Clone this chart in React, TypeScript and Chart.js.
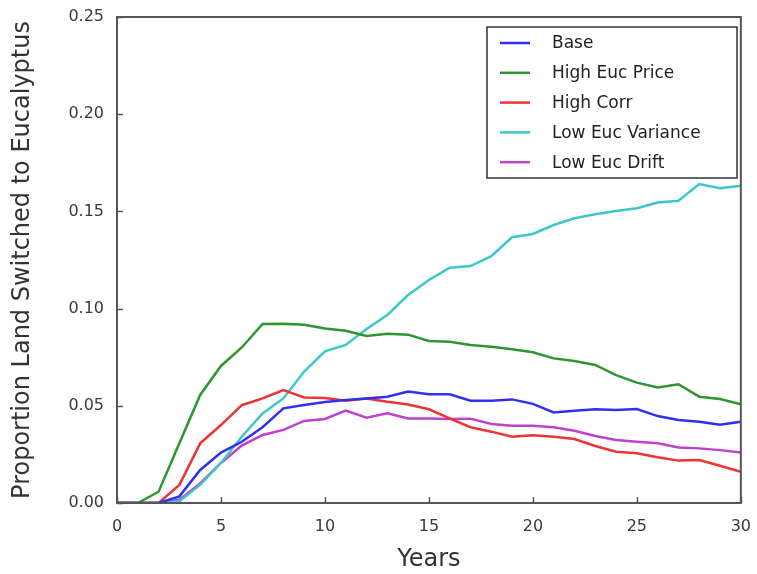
import React, { useEffect, useRef } from "react";
import { Chart, registerables } from "chart.js";

Chart.register(...registerables);

const years = [0, 1, 2, 3, 4, 5, 6, 7, 8, 9, 10, 11, 12, 13, 14, 15, 16, 17, 18, 19, 20, 21, 22, 23, 24, 25, 26, 27, 28, 29, 30];

const base = [0, 0, 0, 0.0034, 0.017, 0.0259, 0.0315, 0.039, 0.0487, 0.0504, 0.052, 0.053, 0.0538, 0.0547, 0.0573, 0.0559, 0.0559, 0.0526, 0.0526, 0.0533, 0.051, 0.0466, 0.0475, 0.0482, 0.0478, 0.0483, 0.0447, 0.0427, 0.0418, 0.0403, 0.0418];
const highEucPrice = [0, 0, 0.0058, 0.0307, 0.0556, 0.0705, 0.08, 0.0921, 0.0922, 0.0917, 0.0898, 0.0886, 0.0859, 0.087, 0.0866, 0.0833, 0.083, 0.0813, 0.0804, 0.0791, 0.0775, 0.0744, 0.073, 0.071, 0.0658, 0.0619, 0.0594, 0.0611, 0.0547, 0.0535, 0.0508];
const highCorr = [0, 0, 0, 0.0093, 0.0307, 0.0401, 0.0503, 0.0538, 0.0581, 0.0543, 0.054, 0.0526, 0.0538, 0.0521, 0.0507, 0.0482, 0.0435, 0.039, 0.0367, 0.0341, 0.0349, 0.0341, 0.0329, 0.0293, 0.0264, 0.0256, 0.0235, 0.0218, 0.0221, 0.0192, 0.0161];
const lowEucVariance = [0, 0, 0, 0.0009, 0.0093, 0.0206, 0.0341, 0.0461, 0.0538, 0.0676, 0.078, 0.0813, 0.0895, 0.0967, 0.107, 0.1147, 0.121, 0.1219, 0.127, 0.1367, 0.1384, 0.143, 0.1465, 0.1485, 0.1502, 0.1516, 0.1546, 0.1555, 0.1641, 0.1619, 0.1632];
const lowEucDrift = [0, 0, 0, 0.0017, 0.0101, 0.0206, 0.0295, 0.035, 0.0376, 0.0422, 0.0432, 0.0475, 0.0439, 0.0461, 0.0435, 0.0435, 0.0432, 0.0434, 0.0406, 0.0398, 0.0398, 0.039, 0.0372, 0.0345, 0.0324, 0.0315, 0.0307, 0.0286, 0.0281, 0.0272, 0.026];

const seriesLabels = ["Base", "High Euc Price", "High Corr", "Low Euc Variance", "Low Euc Drift"];
const seriesValues = [base, highEucPrice, highCorr, lowEucVariance, lowEucDrift];
const seriesColors = ["#3030f0", "#2e962e", "#ec3434", "#3cc8c8", "#c040d0"];

const xTitle = "Years";
const yTitle = "Proportion Land Switched to Eucalyptus";

const tickFont = "'DejaVu Sans', sans-serif";
const mainFont = "'DejaVu Sans', sans-serif";

const framePlugin = {
  id: "frame",
  afterDatasetsDraw(chart: any) {
    const { ctx, chartArea: a, scales } = chart;
    ctx.save();
    ctx.strokeStyle = "#555";
    ctx.lineWidth = 1.5;
    const len = 6;
    ctx.beginPath();
    scales.y.ticks.forEach((t: any) => {
      const py = Math.round(scales.y.getPixelForValue(t.value)) + 0.5;
      ctx.moveTo(a.left, py);
      ctx.lineTo(a.left + len, py);
    });
    scales.x.ticks.forEach((t: any) => {
      const px = Math.round(scales.x.getPixelForValue(t.value)) + 0.5;
      ctx.moveTo(px, a.bottom);
      ctx.lineTo(px, a.bottom - len);
    });
    ctx.stroke();
    ctx.lineWidth = 2;
    ctx.strokeStyle = "#555";
    ctx.strokeRect(a.left, a.top, a.right - a.left, a.bottom - a.top);

    // legend
    const bx = 487, by = 27, bw = 250, bh = 151;
    ctx.fillStyle = "#fff";
    ctx.fillRect(bx, by, bw, bh);
    ctx.lineWidth = 1.5;
    ctx.strokeStyle = "#333";
    ctx.strokeRect(bx, by, bw, bh);
    ctx.font = `17px ${mainFont}`;
    ctx.textBaseline = "middle";
    ctx.textAlign = "left";
    chart.data.datasets.forEach((ds: any, i: number) => {
      const ry = by + 16 + i * 29.8;
      ctx.strokeStyle = ds.borderColor;
      ctx.lineWidth = 2.5;
      ctx.beginPath();
      ctx.moveTo(bx + 13, ry);
      ctx.lineTo(bx + 43, ry);
      ctx.stroke();
      ctx.fillStyle = "#222";
      ctx.fillText(ds.label, bx + 65, ry + 1);
    });
    ctx.restore();
  },
};

export default function App() {
  const ref = useRef<HTMLCanvasElement | null>(null);
  useEffect(() => {
    document.body.style.margin = "0";
    if (!ref.current) return;
    const chart = new Chart(ref.current, {
      type: "line",
      data: {
        datasets: seriesLabels.map((label, i) => ({
          label,
          data: years.map((x, j) => ({ x, y: seriesValues[i][j] })),
          borderColor: seriesColors[i],
          backgroundColor: seriesColors[i],
          borderWidth: 2.5,
          pointRadius: 0,
          tension: 0,
          fill: false,
        })),
      },
      options: {
        animation: false,
        responsive: false,
        maintainAspectRatio: false,
        layout: { padding: { top: 17, right: 12, left: 0, bottom: 0 } },
        plugins: { legend: { display: false }, tooltip: { enabled: false } },
        scales: {
          x: {
            type: "linear",
            min: 0,
            max: 30,
            grid: { display: false },
            border: { display: false },
            ticks: {
              stepSize: 5,
              padding: 6,
              color: "#3a3a3a",
              font: { family: tickFont, size: 16 },
              maxRotation: 0,
            },
            title: {
              display: true,
              text: xTitle,
              color: "#333",
              font: { family: mainFont, size: 24 },
              padding: { top: 0, bottom: 0 },
            },
            afterFit(scale: any) {
              scale.height = 71;
            },
          },
          y: {
            min: 0,
            max: 0.25,
            grid: { display: false },
            border: { display: false },
            ticks: {
              stepSize: 0.05,
              padding: 5,
              color: "#3a3a3a",
              font: { family: tickFont, size: 16 },
              callback: (v: any) => Number(v).toFixed(2),
            },
            title: {
              display: true,
              text: yTitle,
              color: "#333",
              font: { family: mainFont, size: 24 },
              padding: { top: 8, bottom: 0 },
            },
            afterFit(scale: any) {
              scale.width = 117;
            },
          },
        },
      },
      plugins: [framePlugin],
    });
    return () => chart.destroy();
  }, []);
  return (
    <div style={{ width: 757, height: 574, background: "#fff" }}>
      <canvas ref={ref} width={757} height={574} style={{ display: "block" }} />
    </div>
  );
}
